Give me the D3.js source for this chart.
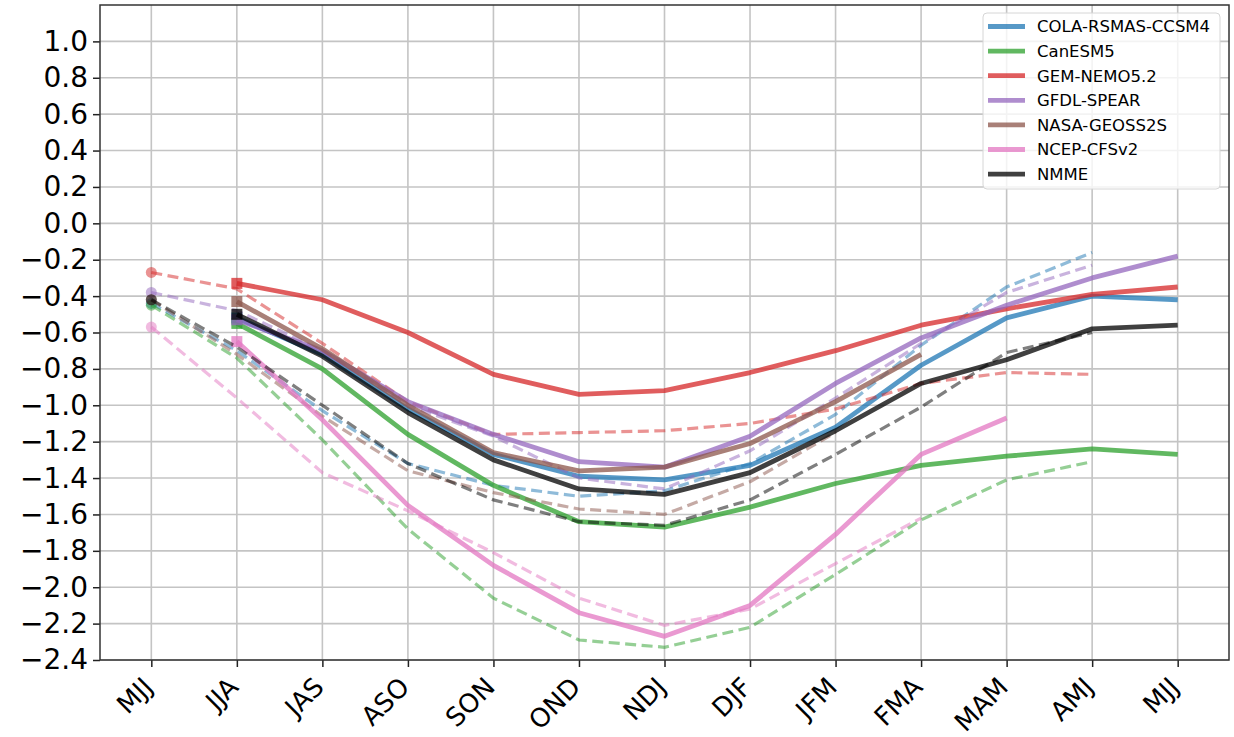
<!DOCTYPE html>
<html>
  <head>
    <meta charset="utf-8">
    <script src="https://cdn.jsdelivr.net/npm/d3@7"></script>
    <style type="text/css">
      body { margin: 0; background: #fff; }
      svg { font-family: "DejaVu Sans", sans-serif; }
      .grid line { stroke: #c4c4c4; stroke-width: 1.6; }
      .axis path, .axis line { stroke: #222; stroke-width: 1.5; }
      .axis text { fill: #000; font-size: 28px; font-family: "DejaVu Sans", sans-serif; }
      .xaxis text { font-size: 26px; }
    </style>
  </head>
  <body>
    <div id="chart"></div>
    <script>
      // seasons on the x axis (MJJ appears twice)
      var seasons = ["MJJ","JJA","JAS","ASO","SON","OND","NDJ","DJF","JFM","FMA","MAM","AMJ","MJJ"];
      var yTicks = [-2.4,-2.2,-2.0,-1.8,-1.6,-1.4,-1.2,-1.0,-0.8,-0.6,-0.4,-0.2,0.0,0.2,0.4,0.6,0.8,1.0];

      var models = ["COLA-RSMAS-CCSM4","CanESM5","GEM-NEMO5.2","GFDL-SPEAR","NASA-GEOSS2S","NCEP-CFSv2","NMME"];
      var colors = ["#1f77b4","#2ca02c","#d62728","#9467bd","#8c564b","#e377c2","#000000"];

      // current forecast (solid), starts at JJA
      var colaSolid = [null,-0.52,-0.72,-1.02,-1.27,-1.39,-1.41,-1.33,-1.12,-0.78,-0.52,-0.40,-0.42];
      var canSolid  = [null,-0.55,-0.80,-1.16,-1.44,-1.64,-1.67,-1.56,-1.43,-1.33,-1.28,-1.24,-1.27];
      var gemSolid  = [null,-0.33,-0.42,-0.60,-0.83,-0.94,-0.92,-0.82,-0.70,-0.56,-0.47,-0.39,-0.35];
      var gfdlSolid = [null,-0.53,-0.70,-0.98,-1.16,-1.31,-1.34,-1.17,-0.88,-0.63,-0.45,-0.30,-0.18];
      var nasaSolid = [null,-0.43,-0.69,-1.00,-1.26,-1.36,-1.34,-1.21,-0.98,-0.72,null,null,null];
      var ncepSolid = [null,-0.65,-1.08,-1.55,-1.88,-2.14,-2.27,-2.10,-1.71,-1.27,-1.07,null,null];
      var nmmeSolid = [null,-0.50,-0.73,-1.04,-1.30,-1.46,-1.49,-1.37,-1.14,-0.88,-0.75,-0.58,-0.56];

      // previous forecast (dashed), starts at MJJ
      var colaDash = [-0.44,-0.70,-1.03,-1.32,-1.44,-1.50,-1.47,-1.32,-1.05,-0.67,-0.35,-0.16,null];
      var canDash  = [-0.45,-0.74,-1.19,-1.68,-2.06,-2.29,-2.33,-2.22,-1.93,-1.63,-1.41,-1.31,null];
      var gemDash  = [-0.27,-0.36,-0.66,-0.98,-1.16,-1.15,-1.14,-1.10,-1.02,-0.88,-0.82,-0.83,null];
      var gfdlDash = [-0.38,-0.48,-0.70,-1.00,-1.17,-1.40,-1.46,-1.25,-0.96,-0.66,-0.38,-0.23,null];
      var nasaDash = [-0.42,-0.72,-1.06,-1.36,-1.48,-1.57,-1.60,-1.42,-1.15,null,null,null,null];
      var ncepDash = [-0.57,-0.96,-1.37,-1.58,-1.81,-2.06,-2.21,-2.12,-1.87,-1.62,null,null,null];
      var nmmeDash = [-0.42,-0.68,-1.00,-1.32,-1.52,-1.64,-1.66,-1.52,-1.27,-1.01,-0.71,-0.60,null];

      var solids = [colaSolid, canSolid, gemSolid, gfdlSolid, nasaSolid, ncepSolid, nmmeSolid];
      var dashes = [colaDash, canDash, gemDash, gfdlDash, nasaDash, ncepDash, nmmeDash];

      var width = 1234, height = 737;
      var margin = {top: 5, right: 5, bottom: 77, left: 100};

      var xScale = d3.scaleLinear()
        .domain([-0.6, seasons.length - 1 + 0.6])
        .range([margin.left, width - margin.right]);

      var yScale = d3.scaleLinear()
        .domain([-2.4, 1.2])
        .range([height - margin.bottom, margin.top]);

      var svg = d3.select("#chart").append("svg")
        .attr("width", width)
        .attr("height", height);

      var plot = svg.append("g");
      plot.append("clipPath").attr("id", "clip")
        .append("rect")
        .attr("x", margin.left).attr("y", margin.top)
        .attr("width", width - margin.left - margin.right)
        .attr("height", height - margin.top - margin.bottom);

      // grid
      var grid = plot.append("g").attr("class", "grid");
      grid.selectAll(".gx").data(d3.range(seasons.length)).enter()
        .append("line")
        .attr("x1", function(d) { return xScale(d); })
        .attr("x2", function(d) { return xScale(d); })
        .attr("y1", margin.top)
        .attr("y2", height - margin.bottom);
      grid.selectAll(".gy").data(yTicks).enter()
        .append("line")
        .attr("x1", margin.left)
        .attr("x2", width - margin.right)
        .attr("y1", function(d) { return yScale(d); })
        .attr("y2", function(d) { return yScale(d); });

      var line = d3.line()
        .defined(function(d) { return d != null; })
        .x(function(d, i) { return xScale(i); })
        .y(function(d) { return yScale(d); });

      var lines = plot.append("g").attr("clip-path", "url(#clip)");

      for (var k = 0; k < models.length; k++) {
        lines.append("path")
          .attr("d", line(dashes[k]))
          .attr("fill", "none")
          .attr("stroke", colors[k])
          .attr("stroke-opacity", 0.5)
          .attr("stroke-width", 3.2)
          .attr("stroke-dasharray", "11,5.5");

        lines.append("path")
          .attr("d", line(solids[k]))
          .attr("fill", "none")
          .attr("stroke", colors[k])
          .attr("stroke-opacity", 0.75)
          .attr("stroke-width", 4.8)
          .attr("stroke-linejoin", "round");

        lines.append("circle")
          .attr("cx", xScale(0))
          .attr("cy", yScale(dashes[k][0]))
          .attr("r", 5.5)
          .attr("fill", colors[k])
          .attr("fill-opacity", 0.5);

        lines.append("rect")
          .attr("x", xScale(1) - 5.5)
          .attr("y", yScale(solids[k][1]) - 5.5)
          .attr("width", 11)
          .attr("height", 11)
          .attr("fill", colors[k])
          .attr("fill-opacity", 0.75);
      }

      // axes
      var yAxis = d3.axisLeft(yScale)
        .tickValues(yTicks)
        .tickSize(7)
        .tickPadding(5)
        .tickFormat(d3.format(".1f"));

      svg.append("g")
        .attr("class", "axis")
        .attr("transform", "translate(" + margin.left + ",0)")
        .call(yAxis)
        .call(function(g) { g.select(".domain").remove(); });

      var xAxis = d3.axisBottom(xScale)
        .tickValues(d3.range(seasons.length))
        .tickSize(7)
        .tickFormat(function(i) { return seasons[i]; });

      var xg = svg.append("g")
        .attr("class", "axis xaxis")
        .attr("transform", "translate(0," + (height - margin.bottom) + ")")
        .call(xAxis)
        .call(function(g) { g.select(".domain").remove(); });

      xg.selectAll(".tick text")
        .attr("text-anchor", "end")
        .attr("dy", null)
        .attr("y", null)
        .attr("transform", "translate(-11,15) rotate(-45)")
        .attr("dominant-baseline", "hanging");

      // frame
      svg.append("rect")
        .attr("x", margin.left)
        .attr("y", margin.top)
        .attr("width", width - margin.left - margin.right)
        .attr("height", height - margin.top - margin.bottom)
        .attr("fill", "none")
        .attr("stroke", "#333")
        .attr("stroke-width", 1.5);

      // legend
      var lg = svg.append("g").attr("transform", "translate(983,13)");
      lg.append("rect")
        .attr("width", 237)
        .attr("height", 176)
        .attr("rx", 4)
        .attr("fill", "#fff")
        .attr("fill-opacity", 0.8)
        .attr("stroke", "#d6d6d6")
        .attr("stroke-width", 1);

      var items = lg.selectAll(".item").data(models).enter()
        .append("g")
        .attr("transform", function(d, i) { return "translate(0," + (13.5 + i * 24.6) + ")"; });

      items.append("line")
        .attr("x1", 5).attr("x2", 42)
        .attr("stroke", function(d, i) { return colors[i]; })
        .attr("stroke-opacity", 0.75)
        .attr("stroke-width", 4.8);

      items.append("text")
        .attr("x", 54)
        .attr("dy", "0.36em")
        .attr("font-size", "16.5px")
        .attr("fill", "#000")
        .text(function(d) { return d; });
    </script>
  </body>
</html>
